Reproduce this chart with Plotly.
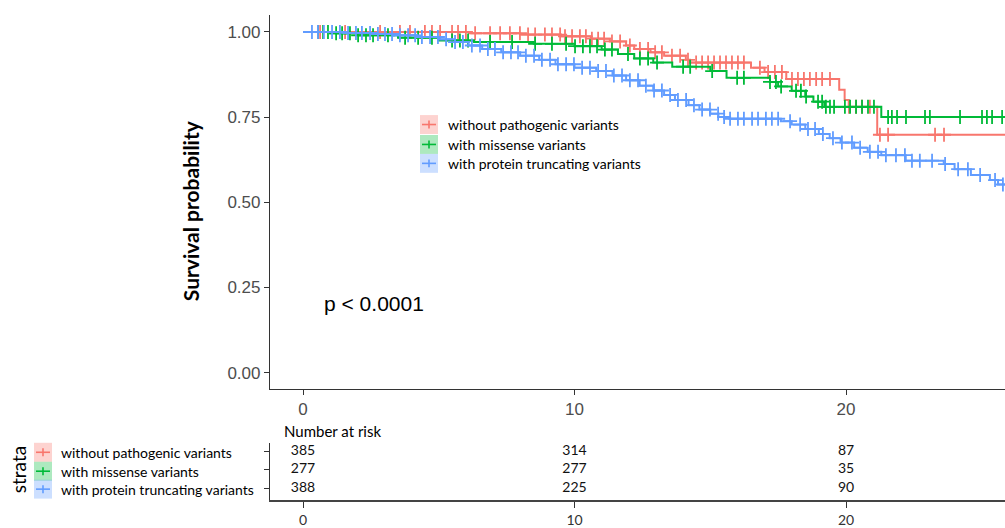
import plotly.graph_objects as go

W, H = 1005, 528

groups = ["without pathogenic variants", "with missense variants", "with protein truncating variants"]
colors = ["#F8766D", "#00BA38", "#619CFF"]
pale = ["rgba(248,118,109,0.32)", "rgba(0,186,56,0.32)", "rgba(97,156,255,0.32)"]

# ---- Kaplan-Meier steps (time, survival after the drop) ----
red_event_t = [6.2, 8.0, 9.5, 10.6, 11.3, 11.9, 12.2, 12.8, 13.3, 14.1, 14.25, 16.5, 17.0, 17.8, 19.75, 19.95, 20.1, 21.15]
red_event_s = [0.996, 0.992, 0.987, 0.98, 0.972, 0.96, 0.95, 0.94, 0.93, 0.918, 0.91, 0.895, 0.882, 0.862, 0.83, 0.80, 0.78, 0.698]
red_censor_t = [0.63, 1.55, 2.84, 3.57, 3.94, 4.49, 4.75, 5.05, 5.49, 5.71, 6.0, 6.34, 6.89, 7.26, 7.62, 7.99,
                8.29, 8.55, 8.91, 9.17, 9.47, 9.65, 9.91, 10.2, 10.42, 10.64, 10.87, 11.09, 11.38, 11.68, 12.04,
                12.41, 12.71, 12.97, 13.22, 13.59, 13.89, 14.18, 14.48, 14.7, 14.92, 15.14, 15.36, 15.58, 15.8,
                16.02, 16.24, 16.83, 17.13, 17.38, 17.64, 18.01, 18.23, 18.45, 18.67, 18.9, 19.12, 19.41, 20.11,
                20.37, 20.59, 20.88, 21.25, 21.55, 23.28, 23.61, 26.5]

green_event_t = [1.0, 2.0, 3.5, 5.0, 6.3, 8.5, 10.0, 11.0, 11.6, 12.2, 12.9, 13.6, 15.0, 15.6, 17.2, 17.5, 18.0, 18.5, 18.8, 19.2, 21.3]
green_event_s = [0.996, 0.99, 0.983, 0.975, 0.97, 0.965, 0.958, 0.948, 0.935, 0.922, 0.91, 0.898, 0.885, 0.865, 0.853, 0.84, 0.827, 0.81, 0.795, 0.78, 0.75]
green_censor_t = [0.55, 0.74, 0.92, 1.22, 1.44, 1.73, 2.03, 2.32, 2.58, 3.13, 3.76, 4.24, 4.75, 5.49, 5.78, 6.08,
                  6.89, 7.7, 8.55, 9.17, 9.69, 10.02, 10.31, 10.57, 10.83, 11.12, 11.38, 11.97, 12.41, 12.71, 13.04,
                  14.0, 14.26, 15.07, 15.99, 16.24, 17.2, 17.42, 17.61, 18.16, 18.34, 18.53, 18.97, 19.12, 19.26,
                  19.41, 19.56, 19.96, 20.15, 20.37, 20.59, 20.81, 21.03, 21.55, 21.69, 21.88, 22.21, 22.91, 23.09,
                  24.2, 25.01, 25.19, 25.38, 25.75, 26.5]

blue_event_t = [1.5, 2.5, 3.3, 4.2, 5.0, 5.6, 6.1, 6.6, 7.3, 8.0, 8.7, 9.3, 10.0, 10.8, 11.4, 11.9, 12.4, 12.9, 13.3,
                13.7, 14.2, 14.6, 15.0, 15.3, 15.7, 17.6, 18.0, 18.5, 19.0, 19.4, 19.8, 20.3, 20.8, 21.3, 22.2, 23.6,
                24.0, 24.6, 25.3, 25.6]
blue_event_s = [0.997, 0.994, 0.99, 0.985, 0.978, 0.97, 0.96, 0.95, 0.94, 0.93, 0.918, 0.905, 0.895, 0.885, 0.872,
                0.858, 0.842, 0.828, 0.815, 0.80, 0.785, 0.772, 0.76, 0.75, 0.745, 0.738, 0.728, 0.715, 0.70, 0.688,
                0.675, 0.66, 0.648, 0.638, 0.622, 0.612, 0.597, 0.58, 0.565, 0.552]
blue_censor_t = [0.33, 0.55, 0.77, 1.07, 1.36, 1.66, 1.95, 2.17, 2.47, 2.76, 3.02, 3.28, 3.57, 3.87, 4.13, 4.38,
                 4.68, 4.97, 5.27, 5.6, 5.89, 6.22, 6.52, 6.81, 7.07, 7.37, 7.66, 7.92, 8.21, 8.51, 8.8, 9.1, 9.39,
                 9.69, 9.98, 10.28, 10.57, 10.87, 11.16, 11.45, 11.75, 12.04, 12.34, 12.63, 12.93, 13.22, 13.52,
                 13.81, 14.11, 14.4, 14.7, 14.99, 15.29, 15.51, 15.73, 16.02, 16.24, 16.54, 16.76, 17.05, 17.27,
                 17.5, 17.94, 18.31, 18.6, 18.86, 19.15, 19.52, 19.85, 20.22, 20.52, 20.88, 21.18, 21.47, 21.84,
                 22.17, 22.43, 22.72, 23.17, 23.65, 24.13, 24.49, 24.94, 25.49, 25.78, 26.5]

risk_times = [0, 10, 20]
risk_red = [385, 314, 87]
risk_green = [277, 277, 35]
risk_blue = [388, 225, 90]

x_ticks = [0, 10, 20, 30]
y_ticks = [0.0, 0.25, 0.5, 0.75, 1.0]
y_tick_labels = ["0.00", "0.25", "0.50", "0.75", "1.00"]
p_text = "p < 0.0001"

series = [
    (red_event_t, red_event_s, red_censor_t, risk_red),
    (green_event_t, green_event_s, green_censor_t, risk_green),
    (blue_event_t, blue_event_s, blue_censor_t, risk_blue),
]


def surv_at(t, ev_t, ev_s):
    s = 1.0
    for et, es in zip(ev_t, ev_s):
        if et <= t:
            s = es
    return s


# window-pixel helpers for layout (paper coordinates)
def px(x):
    return x / W


def py(y):
    return 1 - y / H


fig = go.Figure()

for i, (et, es, ct, _) in enumerate(series):
    end_t = max(ct)
    xs = [0.0] + list(et) + [end_t]
    ys = [1.0] + list(es) + [es[-1]]
    fig.add_trace(go.Scatter(x=xs, y=ys, mode="lines", line=dict(color=colors[i], width=2, shape="hv"),
                             showlegend=False, hoverinfo="skip", xaxis="x", yaxis="y"))
    fig.add_trace(go.Scatter(x=ct, y=[surv_at(t, et, es) for t in ct], mode="markers",
                             marker=dict(symbol="cross-thin", size=10, line=dict(color=colors[i], width=1.8)),
                             showlegend=False, hoverinfo="skip", xaxis="x", yaxis="y"))

# risk table
row_y = [3, 2, 1]
for i, (_, _, _, rk) in enumerate(series):
    fig.add_trace(go.Scatter(x=risk_times, y=[row_y[i]] * len(risk_times), mode="text",
                             text=[str(v) for v in rk], textposition="middle center",
                             textfont=dict(family="Lato", size=14, color="#111"),
                             showlegend=False, hoverinfo="skip", xaxis="x2", yaxis="y2", cliponaxis=False))

x0_px, x1_px = 270, 1005
xr = [(x0_px - 303) / 27.15, (x1_px - 303) / 27.15]
ppu = 342.0
yr = [-(390 - 374) / ppu, 1 + (32 - 15) / ppu]

axis_font = dict(family="Liberation Sans, Arial", size=17, color="#4D4D4D")

fig.update_layout(
    width=W, height=H, margin=dict(l=0, r=0, t=0, b=0),
    paper_bgcolor="white", plot_bgcolor="white",
    xaxis=dict(domain=[px(x0_px), 1], range=xr, showline=True, linecolor="#333", linewidth=1.2,
               ticks="outside", ticklen=5, tickcolor="#333", tickvals=x_ticks, tickfont=axis_font,
               showgrid=False, zeroline=False, anchor="y"),
    yaxis=dict(domain=[py(390), py(15)], range=yr, showline=True, linecolor="#333", linewidth=1.2,
               ticks="outside", ticklen=5, tickcolor="#333", tickvals=y_ticks, ticktext=y_tick_labels,
               tickfont=axis_font, showgrid=False, zeroline=False, anchor="x"),
    xaxis2=dict(domain=[px(x0_px), 1], range=xr, showline=True, linecolor="#444", linewidth=2,
                ticks="outside", ticklen=6, tickcolor="#333", tickvals=x_ticks,
                tickfont=dict(family="Lato", size=14, color="#333"),
                showgrid=False, zeroline=False, anchor="y2"),
    yaxis2=dict(domain=[py(502), py(445)], range=[0.35, 3.43], showline=True, linecolor="#333", linewidth=1,
                ticks="outside", ticklen=5, tickcolor="#333", tickvals=row_y, showticklabels=False,
                showgrid=False, zeroline=False, anchor="x2"),
    showlegend=False,
)

annotations = []
shapes = []

# y-axis title
annotations.append(dict(x=px(190), y=py(212), xref="paper", yref="paper", text="<b>Survival probability</b>",
                        textangle=-90, showarrow=False, font=dict(family="Lato", size=21, color="black"),
                        xanchor="center", yanchor="middle"))
# p-value
annotations.append(dict(x=(322 - 303) / 27.15, y=(374 - 305) / ppu, xref="x", yref="y", text=p_text,
                        showarrow=False, xanchor="left", yanchor="middle",
                        font=dict(family="Liberation Sans, Arial", size=21, color="black")))
# Number at risk title
annotations.append(dict(x=px(282), y=py(433), xref="paper", yref="paper", text="Number at risk",
                        showarrow=False, xanchor="left", yanchor="middle",
                        font=dict(family="Lato", size=15, color="black")))
# strata label
annotations.append(dict(x=px(18), y=py(472), xref="paper", yref="paper", text="strata", textangle=-90,
                        showarrow=False, xanchor="center", yanchor="middle",
                        font=dict(family="Lato", size=19, color="black")))


def add_key(cx, cy, i, text_x, label):
    shapes.append(dict(type="rect", xref="paper", yref="paper", x0=px(cx - 9), x1=px(cx + 9),
                       y0=py(cy + 9.5), y1=py(cy - 9.5), fillcolor=pale[i], line=dict(width=0), layer="below"))
    shapes.append(dict(type="line", xref="paper", yref="paper", x0=px(cx - 7), x1=px(cx + 7),
                       y0=py(cy), y1=py(cy), line=dict(color=colors[i], width=1.6)))
    shapes.append(dict(type="line", xref="paper", yref="paper", x0=px(cx), x1=px(cx),
                       y0=py(cy - 4), y1=py(cy + 4), line=dict(color=colors[i], width=1.6)))
    annotations.append(dict(x=px(text_x), y=py(cy), xref="paper", yref="paper", text=label, showarrow=False,
                            xanchor="left", yanchor="middle", font=dict(family="Lato", size=14, color="black")))


inner_y = [125, 145, 164]
table_y = [454, 473, 491]
for i, g in enumerate(groups):
    add_key(429, inner_y[i], i, 446, g)
    add_key(43, table_y[i], i, 59, g)

fig.update_layout(annotations=annotations, shapes=shapes)

# place the figure flush with the window (no default body margin, no scrollbars)
page_fix = "document.body.style.margin='0';document.body.style.overflow='hidden';"
fig.write_html("out.html", post_script=page_fix, config={"displayModeBar": False})
